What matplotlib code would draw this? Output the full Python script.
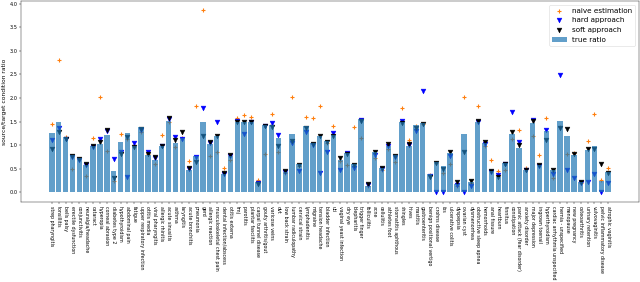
import matplotlib
matplotlib.use("Agg")
import matplotlib.pyplot as plt
import numpy as np

labels = [
    "strep pharyngitis", "tonsillitis", "bells palsy", "erectile dysfunction", "conjunctivitis",
    "neuralgia/headache", "cataract", "hyperopia", "corneal abrasion", "diabetes type 2",
    "hypothyroidism", "abdominal pain", "fatigue", "upper respiratory infection", "otitis media",
    "viral pharyngitis", "allergic rhinitis", "acute sinusitis", "asthma", "laryngitis",
    "acute bronchitis", "pneumonia", "gerd", "allergic reaction", "musculoskeletal chest pain",
    "dental infection/abscess", "otitis externa", "tmj", "parotitis", "plantar fasciitis",
    "carpal tunnel disease", "gouty arthritis/gout", "varicose veins", "dvt", "low back strain",
    "lumbar radiculopathy", "cervical strain", "lymphadenitis", "migraine", "tension headache",
    "bladder infection", "uti", "vaginal yeast infection", "dry eye", "blepharitis",
    "trigger finger", "folliculitis", "acne", "cellulitis", "athletes foot",
    "stomatitis aphthous", "shingles", "hives", "mastitis", "gastroenteritis",
    "benign positional vertigo", "crohns disease", "ibs", "ulcerative colitis", "dyspepsia",
    "ovarian cyst", "dysmenorrhea", "obstructive sleep apnea", "hemorrhoids", "anal fissure",
    "heartburn", "tinnitus", "constipation", "panic attack (fear disorder)", "anxiety disorder",
    "major depression", "ingrown toenail", "hyperthyroidism", "cardiac arrhythmia unspecified",
    "hernia - unspecified", "menopause", "new pregnancy", "osteoarthritis", "urinary retention",
    "vulvovaginitis", "pelvic inflammatory disease", "atrophic vaginitis",
]

true_ratio = [
    1.25, 1.50, 1.18, 0.78, 0.72, 0.58, 0.99, 1.03, 1.21, 0.44,
    1.07, 1.26, 0.98, 1.38, 0.79, 0.68, 0.99, 1.52, 1.04, 1.15,
    0.48, 0.77, 1.50, 1.03, 1.20, 0.39, 0.77, 1.50, 1.50, 1.50,
    0.21, 1.43, 1.43, 1.14, 0.42, 1.23, 0.59, 1.40, 1.04, 1.20,
    1.08, 1.21, 0.69, 0.84, 0.60, 1.56, 0.14, 0.86, 0.52, 0.99,
    0.78, 1.50, 0.99, 1.42, 1.46, 0.38, 0.64, 0.55, 0.83, 0.17,
    1.23, 0.21, 1.50, 1.04, 0.45, 0.32, 0.62, 1.24, 0.93, 0.47,
    1.47, 0.57, 1.30, 0.47, 1.52, 1.20, 0.79, 0.21, 0.89, 0.98,
    0.24, 0.42,
]

naive = [
    1.45, 2.80, 1.18, 0.50, 0.70, 0.35, 1.16, 2.01, 0.88, 0.24,
    1.23, 1.13, 0.95, 1.27, 0.80, 0.60, 1.22, 1.48, 0.95, 1.15,
    0.66, 1.82, 3.87, 0.77, 0.86, 0.52, 0.69, 1.58, 1.63, 1.59,
    0.25, 0.82, 1.65, 0.86, 0.40, 2.03, 0.55, 1.59, 1.58, 1.82,
    1.05, 1.41, 0.67, 0.57, 1.38, 1.14, 0.14, 0.72, 0.48, 0.92,
    0.64, 1.78, 1.11, 1.40, 1.45, 0.37, 0.62, 0.40, 0.59, 0.13,
    2.01, 0.20, 1.83, 0.97, 0.69, 0.45, 0.47, 1.13, 1.31, 0.51,
    1.20, 0.79, 1.57, 0.31, 1.38, 0.81, 0.84, 0.20, 1.09, 1.66,
    0.26, 0.52,
]

hard = [
    1.10, 1.36, 1.13, 0.74, 0.69, 0.57, 0.96, 1.13, 1.29, 0.71,
    0.86, 0.33, 1.04, 1.33, 0.86, 0.72, 0.97, 1.55, 1.18, 1.13,
    0.50, 0.75, 1.78, 1.05, 1.48, 0.38, 0.76, 1.52, 1.24, 1.49,
    0.19, 1.40, 1.46, 1.22, 0.42, 1.05, 0.44, 1.27, 1.01, 0.40,
    0.86, 1.25, 0.47, 0.83, 0.51, 1.53, 0.15, 0.79, 0.50, 0.98,
    0.74, 1.52, 1.00, 1.30, 2.14, 0.35, 0.00, 0.00, 0.76, 0.16,
    0.00, 0.12, 1.50, 1.03, 0.42, 0.37, 0.60, 1.70, 1.06, 0.46,
    1.54, 0.56, 1.32, 0.39, 2.48, 0.47, 0.30, 0.20, 0.21, 0.38,
    0.00, 0.19,
]

soft = [
    0.92, 1.27, 1.13, 0.76, 0.71, 0.59, 0.98, 1.07, 1.31, 0.30,
    0.80, 1.18, 0.96, 1.34, 0.81, 0.74, 0.98, 1.57, 1.11, 1.27,
    0.52, 0.64, 1.20, 1.06, 1.20, 0.40, 0.79, 1.50, 1.48, 1.48,
    0.18, 1.41, 1.39, 0.98, 0.44, 1.08, 0.58, 1.36, 1.02, 1.20,
    1.07, 1.20, 0.72, 0.82, 0.58, 1.52, 0.17, 0.86, 0.51, 1.02,
    0.76, 1.47, 1.02, 1.36, 1.44, 0.33, 0.61, 0.49, 0.86, 0.21,
    0.85, 0.23, 1.51, 1.06, 0.44, 0.32, 0.60, 1.27, 1.01, 0.47,
    1.52, 0.57, 1.11, 0.47, 1.36, 1.35, 0.81, 0.21, 0.92, 0.92,
    0.60, 0.40,
]

DPI = 36
fig = plt.figure(figsize=(640 / DPI, 282 / DPI), dpi=DPI)
ax = fig.add_axes([21 / 640, 1 - 202 / 282, (639 - 21) / 640, 201 / 282])

x = np.arange(len(labels))
ax.scatter(x, naive, marker="+", s=70, linewidths=2.2, color="tab:orange", label="naive estimation")
ax.scatter(x, hard, marker="v", s=90, color="blue", label="hard approach")
ax.scatter(x, soft, marker="v", s=90, color="black", label="soft approach")
ax.bar(x, true_ratio, width=0.8, color="tab:blue", alpha=0.7, label="true ratio")

ax.set_xticks(x)
ax.set_xticklabels(labels, rotation=-90, fontsize=9.6)
ax.tick_params(axis="y", labelsize=10)
ax.set_ylabel("source/target condition ratio", fontsize=12)
ax.set_ylim(-0.21, 4.06)
ax.set_yticks(np.arange(0, 4.01, 0.5))
ax.legend(loc="upper right", fontsize=14.5)

fig.savefig("out.png", dpi=DPI)
